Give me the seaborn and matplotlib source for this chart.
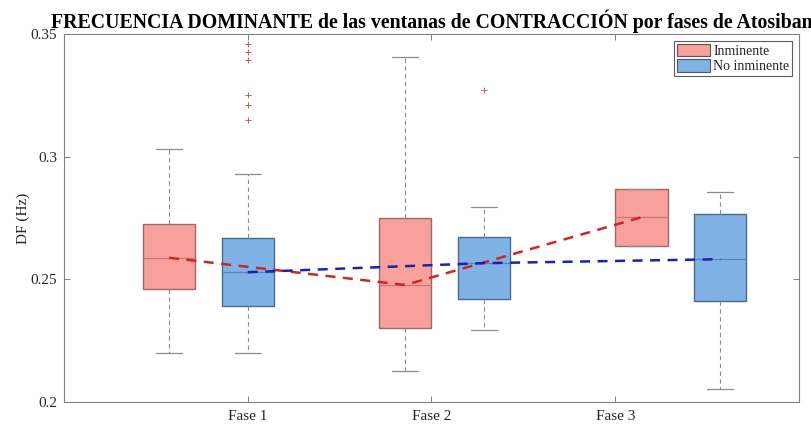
import numpy as np
import pandas as pd
import matplotlib
matplotlib.use("Agg")
import matplotlib.pyplot as plt
from matplotlib.patches import Patch
import seaborn as sns

# Phase labels and group names
fases = ["Fase 1", "Fase 2", "Fase 3"]
grupos = ["Inminente", "No inminente"]

# Five-number summaries per phase (lower whisker, Q1, median, Q3, upper whisker)
inm_min = [0.2198, 0.2125, 0.2637]
inm_q1 = [0.2461, 0.2300, 0.2637]
inm_med = [0.2588, 0.2477, 0.2753]
inm_q3 = [0.2726, 0.2750, 0.2869]
inm_max = [0.3030, 0.3407, 0.2869]

noinm_min = [0.2198, 0.2293, 0.2052]
noinm_q1 = [0.2393, 0.2419, 0.2412]
noinm_med = [0.2529, 0.2566, 0.2582]
noinm_q3 = [0.2667, 0.2671, 0.2765]
noinm_max = [0.2931, 0.2795, 0.2855]

# Outliers of the "No inminente" group
noinm_out_f1 = [0.3458, 0.3425, 0.3395, 0.3250, 0.3212, 0.3151]
noinm_out_f2 = [0.3273]

# Box positions on the x axis
pos_inm = [4 / 7, 13 / 7, 22 / 7]
pos_noinm = [7 / 7, 16 / 7, 25 / 7]
box_w = 2 / 7

c_inm, c_noinm = "#F7A09C", "#80B2E6"
c_inm_edge, c_noinm_edge = "#9A6A68", "#4C6A8C"
c_inm_med, c_noinm_med = "#C97A78", "#5A86B4"
c_inm_line, c_noinm_line = "#D02525", "#1A22B0"

sns.set_theme(style="white")
plt.rcParams["font.family"] = ["Liberation Serif", "DejaVu Serif"]


def long_frame(pos, *cols):
    rows = []
    for i, p in enumerate(pos):
        for col in cols:
            rows.append({"pos": p, "DF": col[i]})
    return pd.DataFrame(rows)


df_inm = long_frame(pos_inm, inm_min, inm_q1, inm_med, inm_q3, inm_max)
df_noinm = long_frame(pos_noinm, noinm_min, noinm_q1, noinm_med, noinm_q3, noinm_max)

fig = plt.figure(figsize=(8.12, 4.24), dpi=100)
ax = fig.add_axes([64 / 812, 22 / 424, (799 - 64) / 812, (402 - 34) / 424])

whisk = dict(linestyle=(0, (4, 3)), color="#8C8C8C", linewidth=0.8)
caps = dict(color="#8C8C8C", linewidth=0.9)

for df, pos, fill, edge, med in [
    (df_inm, pos_inm, c_inm, c_inm_edge, c_inm_med),
    (df_noinm, pos_noinm, c_noinm, c_noinm_edge, c_noinm_med),
]:
    spacing = np.min(np.diff(pos))
    sns.boxplot(
        data=df, x="pos", y="DF", native_scale=True, orient="x",
        width=box_w / spacing, color=fill, linecolor=edge, saturation=1,
        whis=(0, 100), showfliers=False, linewidth=1.0,
        whiskerprops=whisk, capprops=caps,
        medianprops=dict(color=med, linewidth=0.9),
        ax=ax,
    )

# Outliers
out_x = [pos_noinm[0]] * len(noinm_out_f1) + [pos_noinm[1]] * len(noinm_out_f2)
out_y = noinm_out_f1 + noinm_out_f2
sns.scatterplot(x=out_x, y=out_y, marker="+", color="#C85A5A", s=16,
                linewidth=0.7, ax=ax, zorder=5)

# Median trend lines
sns.lineplot(x=pos_inm, y=inm_med, color=c_inm_line, linewidth=1.8,
             linestyle=(0, (4, 3)), sort=False, estimator=None, ax=ax, zorder=6)
sns.lineplot(x=pos_noinm, y=noinm_med, color=c_noinm_line, linewidth=1.8,
             linestyle=(0, (4, 3)), sort=False, estimator=None, ax=ax, zorder=6)

ax.set_xlim(0, 4)
ax.set_ylim(0.2, 0.35)
ax.set_xticks([1, 2, 3])
ax.set_xticklabels(fases)
ax.set_yticks([0.2, 0.25, 0.3, 0.35])
ax.set_yticklabels(["0.2", "0.25", "0.3", "0.35"])
ax.set_xlabel("")
ax.set_ylabel("DF (Hz)", fontsize=11, color="#262626", labelpad=0)
ax.tick_params(direction="in", length=4, width=0.7, colors="#808080",
               labelcolor="#262626", labelsize=11, top=True, right=True,
               bottom=True, left=True)
ax.tick_params(axis="x", pad=6)
ax.tick_params(axis="y", pad=5)
for s in ax.spines.values():
    s.set_color("#808080")
    s.set_linewidth(0.8)

ax.set_title("FRECUENCIA DOMINANTE de las ventanas de CONTRACCIÓN por fases de Atosiban",
             fontsize=14.3, fontweight="bold", color="black", pad=4)

handles = [Patch(facecolor=c_inm, edgecolor="#555555", linewidth=0.8),
           Patch(facecolor=c_noinm, edgecolor="#555555", linewidth=0.8)]
leg = ax.legend(handles, grupos, loc="upper right", fontsize=10,
                frameon=True, fancybox=False, edgecolor="#333333",
                borderaxespad=0.5, borderpad=0.2, handlelength=2.4,
                handleheight=1.0, handletextpad=0.2, labelspacing=0.1)
leg.get_frame().set_linewidth(0.8)

fig.savefig("out.png", dpi=100)
